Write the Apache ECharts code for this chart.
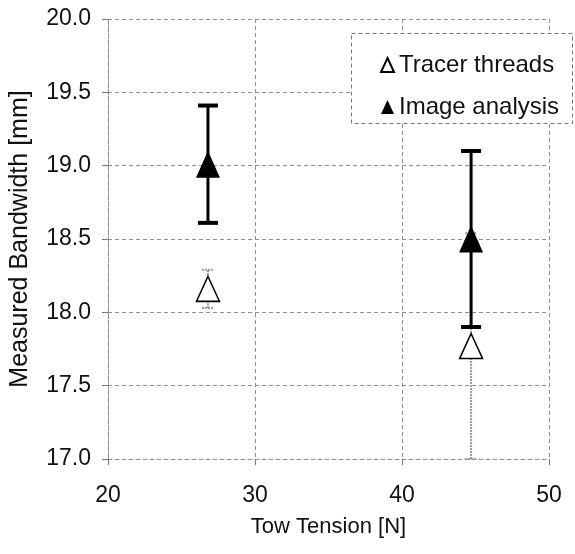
<!DOCTYPE html>
<html>
<head>
<meta charset="utf-8">
<script src="https://cdn.jsdelivr.net/npm/echarts@6/dist/echarts.min.js"></script>
<style>
  html, body { margin: 0; padding: 0; background: #fff; }
  #chart { width: 575px; height: 554px; }
</style>
</head>
<body>
<div id="chart"></div>
<script>
// Tow tension settings [N]
const tension = [26.8, 44.7];
// Tracer-thread measurements [mm] with +/- spread
const tracerMean = [18.16, 17.77];
const tracerErr = [0.13, 0.77];
// Image-analysis measurements [mm] with +/- spread
const imageMean = [19.01, 18.5];
const imageErr = [0.40, 0.60];

const FONT = '"Liberation Sans", Arial, sans-serif';
const gridLine = { color: '#8f8f8f', width: 1, type: [4, 3] };

function errorBars(means, errs, style) {
  return {
    type: 'custom',
    z: 2,
    data: tension.map((t, i) => [t, means[i] - errs[i], means[i] + errs[i]]),
    encode: { x: 0, y: [1, 2] },
    renderItem: function (params, api) {
      const x = api.value(0);
      const lo = api.coord([x, api.value(1)]);
      const hi = api.coord([x, api.value(2)]);
      const hw = style.capHalf;
      return {
        type: 'group',
        children: [
          { type: 'line', shape: { x1: lo[0], y1: lo[1], x2: hi[0], y2: hi[1] },
            style: { stroke: style.color, lineWidth: style.width, lineDash: style.dash } },
          { type: 'line', shape: { x1: lo[0] - hw, y1: lo[1], x2: lo[0] + hw, y2: lo[1] },
            style: { stroke: style.color, lineWidth: style.capWidth, lineDash: style.capDash } },
          { type: 'line', shape: { x1: hi[0] - hw, y1: hi[1], x2: hi[0] + hw, y2: hi[1] },
            style: { stroke: style.color, lineWidth: style.capWidth, lineDash: style.capDash } }
        ]
      };
    }
  };
}

const chart = echarts.init(document.getElementById('chart'));
chart.setOption({
  animation: false,
  backgroundColor: '#fff',
  grid: { left: 107, right: 26, top: 19, bottom: 95 },
  xAxis: {
    type: 'value', min: 20, max: 50, interval: 10,
    name: 'Tow Tension [N]', nameLocation: 'middle', nameGap: 57,
    nameTextStyle: { fontFamily: FONT, fontSize: 22, color: '#111' },
    axisLine: { show: true, lineStyle: gridLine },
    axisTick: { show: true, length: 6, lineStyle: { color: '#777' } },
    axisLabel: { fontFamily: FONT, fontSize: 23, color: '#111', margin: 25 },
    splitLine: { show: true, lineStyle: gridLine }
  },
  yAxis: {
    type: 'value', min: 17, max: 20, interval: 0.5,
    name: 'Measured Bandwidth [mm]', nameLocation: 'middle', nameGap: 75,
    nameTextStyle: { fontFamily: FONT, fontSize: 25, color: '#111' },
    axisLine: { show: true, lineStyle: gridLine },
    axisTick: { show: true, length: 6, lineStyle: { color: '#777' } },
    axisLabel: { fontFamily: FONT, fontSize: 23, color: '#111', margin: 17,
      formatter: v => v.toFixed(1) },
    splitLine: { show: true, lineStyle: gridLine }
  },
  legend: {
    orient: 'vertical', left: 375, top: 48, z: 10,
    itemWidth: 13, itemHeight: 14, itemGap: 18,
    textStyle: { fontFamily: FONT, fontSize: 24, color: '#111' },
    data: ['Tracer threads', 'Image analysis']
  },
  graphic: [{
    type: 'rect', z: 5,
    shape: { x: 351.5, y: 33.5, width: 221, height: 90 },
    style: { fill: '#fff', stroke: '#777', lineWidth: 1, lineDash: [4, 3] }
  }],
  series: [
    Object.assign(errorBars(tracerMean, tracerErr,
      { color: '#9a9a9a', width: 2, dash: [2, 1], capHalf: 6, capWidth: 2, capDash: [2, 1] }),
      { name: 'tracerBars' }),
    Object.assign(errorBars(imageMean, imageErr,
      { color: '#000', width: 3, dash: null, capHalf: 10, capWidth: 4, capDash: null }),
      { name: 'imageBars' }),
    {
      name: 'Tracer threads', type: 'scatter', z: 3,
      symbol: 'triangle', symbolSize: [23, 25],
      itemStyle: { color: '#fff', borderColor: '#000', borderWidth: 1.5, opacity: 1 },
      data: tension.map((t, i) => [t, tracerMean[i]])
    },
    {
      name: 'Image analysis', type: 'scatter', z: 3,
      symbol: 'triangle', symbolSize: [24, 27],
      itemStyle: { color: '#000', opacity: 1 },
      data: tension.map((t, i) => [t, imageMean[i]])
    }
  ]
});
</script>
</body>
</html>
